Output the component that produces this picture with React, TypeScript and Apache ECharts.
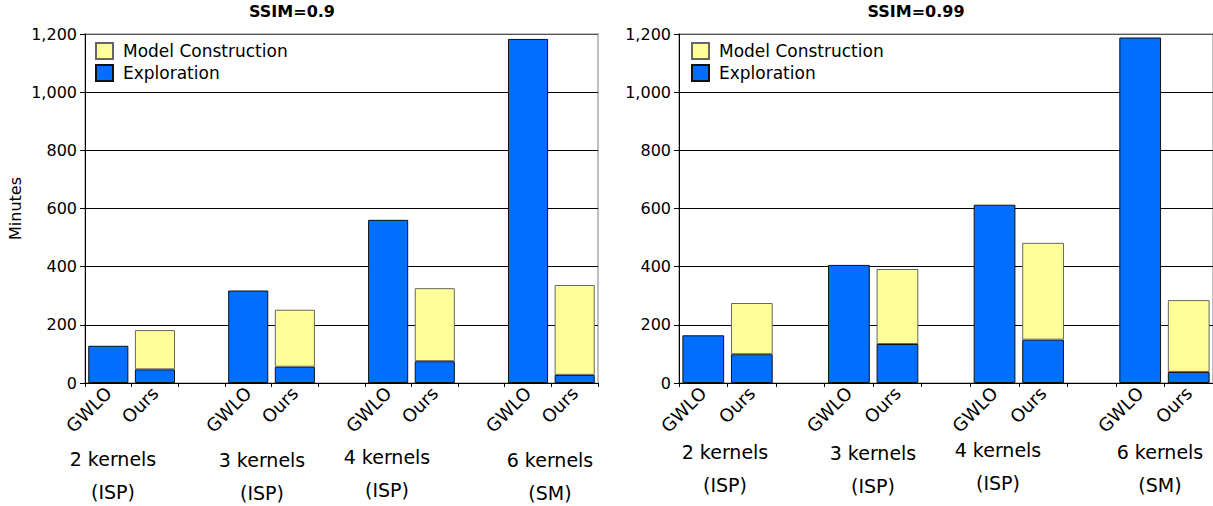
import React, { useEffect, useRef } from "react";
import * as echarts from "echarts";

const FONT = "'DejaVu Sans', sans-serif";

// Slots along each x axis: two bars per kernel group, blank slot between groups
const slotLabels = ["GWLO", "Ours", "", "GWLO", "Ours", "", "GWLO", "Ours", "", "GWLO", "Ours"];
const groupLabels = ["2 kernels\n(ISP)", "3 kernels\n(ISP)", "4 kernels\n(ISP)", "6 kernels\n(SM)"];
const yTicks = [0, 200, 400, 600, 800, 1000, 1200];

// SSIM = 0.9 (minutes)
const gwloExploration09 = [128, 318, 561, 1183];
const oursExploration09 = [47, 56, 75, 28];
const oursConstruction09 = [135, 196, 251, 309];

// SSIM = 0.99 (minutes)
const gwloExploration099 = [164, 406, 613, 1188];
const oursExploration099 = [99, 134, 149, 38];
const oursConstruction099 = [176, 258, 333, 247];

const BLUE = "#006EFF";
const YELLOW = "#FFFF99";

function explorationSlots(gwlo: number[], ours: number[]) {
  const out: (number | string)[] = [];
  gwlo.forEach((g, i) => {
    out.push(g, ours[i]);
    if (i < gwlo.length - 1) out.push("-");
  });
  return out;
}

function constructionSlots(ours: number[]) {
  const out: (number | string)[] = [];
  ours.forEach((c, i) => {
    out.push("-", c);
    if (i < ours.length - 1) out.push("-");
  });
  return out;
}

const fmt = (v: number) => v.toLocaleString("en-US");

export default function App() {
  const ref = useRef<HTMLDivElement>(null);

  useEffect(() => {
    if (!ref.current) return;
    const chart = echarts.init(ref.current, undefined, { renderer: "svg" });

    const grids = [
      { left: 85, right: 615, top: 34, bottom: 123 },
      { left: 679, right: -4, top: 34, bottom: 123 },
    ];

    const xAxis = grids.map((_, i) => ({
      type: "category",
      gridIndex: i,
      data: slotLabels,
      axisLine: { lineStyle: { color: "#000", width: 1 } },
      axisTick: { show: true, length: 4, lineStyle: { color: "#000" } },
      axisLabel: {
        interval: 0,
        rotate: 45,
        margin: 7,
        color: "#000",
        fontSize: 18,
        fontFamily: FONT,
      },
    }));

    const yAxis = grids.map((_, i) => ({
      type: "value",
      gridIndex: i,
      min: yTicks[0],
      max: yTicks[yTicks.length - 1],
      interval: 200,
      name: i === 0 ? "Minutes" : "",
      nameLocation: "middle",
      nameRotate: 90,
      nameGap: 62,
      nameTextStyle: { color: "#000", fontSize: 16, fontFamily: FONT },
      axisLine: { show: true, lineStyle: { color: "#000", width: 1 } },
      axisTick: { show: true, length: 5, lineStyle: { color: "#000" } },
      axisLabel: {
        margin: 8,
        color: "#000",
        fontSize: 16,
        fontFamily: FONT,
        formatter: (v: number) => fmt(v),
      },
      splitLine: {
        show: true,
        lineStyle: {
          color: ["#000", "#000", "#000", "#000", "#000", "#000", "#555"],
          width: 1,
        },
      },
    }));

    const barCommon = {
      type: "bar",
      barCategoryGap: "14%",
      emphasis: { disabled: true },
    };

    const explorationStyle = { color: BLUE, borderColor: "#111", borderWidth: 1 };
    const constructionStyle = { color: YELLOW, borderColor: "#666", borderWidth: 1 };

    const series = [
      {
        ...barCommon,
        name: "Exploration",
        stack: "a",
        xAxisIndex: 0,
        yAxisIndex: 0,
        itemStyle: explorationStyle,
        data: explorationSlots(gwloExploration09, oursExploration09),
      },
      {
        ...barCommon,
        name: "Model Construction",
        stack: "a",
        xAxisIndex: 0,
        yAxisIndex: 0,
        itemStyle: constructionStyle,
        data: constructionSlots(oursConstruction09),
      },
      {
        ...barCommon,
        name: "Exploration",
        stack: "b",
        xAxisIndex: 1,
        yAxisIndex: 1,
        itemStyle: explorationStyle,
        data: explorationSlots(gwloExploration099, oursExploration099),
      },
      {
        ...barCommon,
        name: "Model Construction",
        stack: "b",
        xAxisIndex: 1,
        yAxisIndex: 1,
        itemStyle: constructionStyle,
        data: constructionSlots(oursConstruction099),
      },
    ];

    const legendCommon = {
      orient: "vertical",
      top: 42,
      padding: 0,
      itemWidth: 17,
      itemHeight: 16,
      itemGap: 4,
      selectedMode: false,
      icon: "rect",
      data: ["Model Construction", "Exploration"],
      textStyle: { color: "#000", fontSize: 17, fontFamily: FONT, padding: [0, 0, 0, 5] },
    };

    // Group captions under each pair of bars
    const groupPos = [
      [
        [113, 459],
        [262, 460],
        [387, 457],
        [550, 460],
      ],
      [
        [725, 452],
        [873, 453],
        [998, 450],
        [1160, 452],
      ],
    ];

    const graphic: any[] = [];
    groupPos.forEach((panel) =>
      panel.forEach(([x, y], j) => {
        graphic.push({
          type: "text",
          x,
          y: y - 16.5,
          silent: true,
          style: {
            text: groupLabels[j],
            fill: "#000",
            font: `19px ${FONT}`,
            align: "center",
            verticalAlign: "top",
            lineHeight: 33,
          },
        });
      })
    );
    [
      ["SSIM=0.9", 292],
      ["SSIM=0.99", 916],
    ].forEach(([text, x]) => {
      graphic.push({
        type: "text",
        x,
        y: 11,
        silent: true,
        style: {
          text,
          fill: "#000",
          font: `bold 16px ${FONT}`,
          align: "center",
          verticalAlign: "middle",
        },
      });
    });

    chart.setOption({
      animation: false,
      backgroundColor: "#fff",
      grid: grids.map((g) => ({
        ...g,
        show: true,
        backgroundColor: "transparent",
        borderColor: "#c0c0c0",
        borderWidth: 2,
      })),
      legend: [
        { ...legendCommon, left: 95 },
        { ...legendCommon, left: 691 },
      ],
      xAxis,
      yAxis,
      series,
      graphic,
    });

    return () => chart.dispose();
  }, []);

  return (
    <div
      ref={ref}
      style={{ position: "absolute", left: 0, top: 0, width: 1213, height: 506, overflow: "hidden" }}
    />
  );
}
